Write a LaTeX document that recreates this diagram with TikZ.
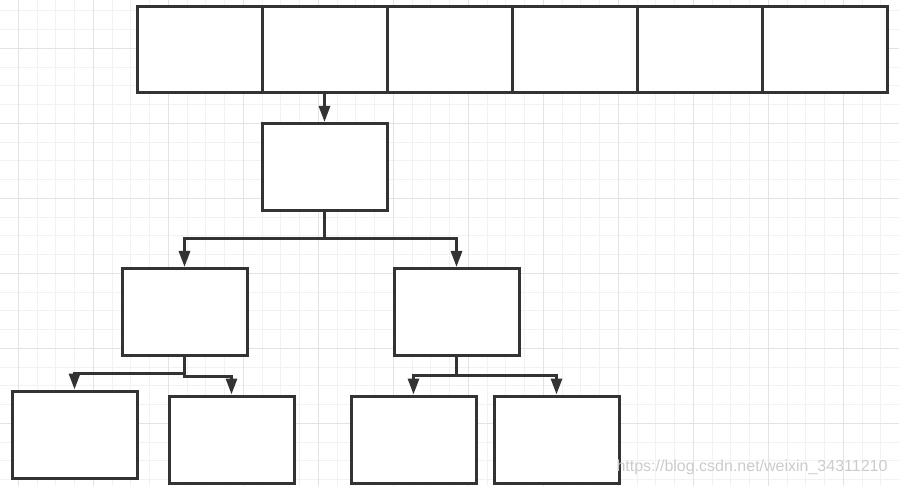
\documentclass[tikz,border=0pt]{standalone}
\usepackage{fontspec}
\newfontfamily\wmfont{Liberation Sans}
\usetikzlibrary{arrows.meta,positioning}
\definecolor{ink}{HTML}{333333}
\definecolor{minorgrid}{HTML}{F2F2F2}
\definecolor{majorgrid}{HTML}{E3E3E3}

\begin{document}
\begin{tikzpicture}[
        x=1pt, y=-1pt,
        >={Triangle[width=11pt,length=16pt]}, % filled arrow head
        line width=3pt]

        \tikzset{
            cell/.style={draw=ink, fill=white, rectangle,
                minimum width=125pt, minimum height=86pt,
                inner sep=0pt, outer sep=0pt},
            blk/.style={draw=ink, fill=white, rectangle,
                minimum width=125pt, minimum height=87pt, inner sep=0pt},
            conn/.style={->, draw=ink, line width=3pt},
            gridline/.style={line width=0.8pt}
        }

        \useasboundingbox (0,0) rectangle (899,486);
        \fill[white] (0,0) rectangle (899,486);
        % background grid
        \foreach \i in {0,...,48} {
            \draw[gridline, minorgrid] ({-0.5+18.75*\i},0) -- ++(0,486);
        }
        \foreach \i in {0,...,26} {
            \draw[gridline, minorgrid] (0,{-8+18.75*\i}) -- ++(899,0);
        }
        \foreach \i in {0,...,11} {
            \draw[gridline, majorgrid] ({18.25+75*\i},0) -- ++(0,486);
        }
        \foreach \i in {0,...,6} {
            \draw[gridline, majorgrid] (0,{-26.75+75*\i}) -- ++(899,0);
        }

        % top row
        \node[cell] (c1) at (199.5,50) {};
        \foreach \j [count=\k from 2] in {1,...,5} {
            \node[cell, right=0pt of c\j] (c\k) {};
        }

        % tree
        \node[blk] (root) at (324.5,167) {};
        \node[blk] (left) at (184.5,312) {};
        \node[blk] (right) at (456.5,312) {};
        \node[blk] (ll) at (74.5,434.5) {};
        \node[blk] (lr) at (231.5,439.5) {};
        \node[blk] (rl) at (413.5,439.5) {};
        \node[blk] (rr) at (556.5,439.5) {};

        \draw[conn] (c2.south) -- (root.north);
        \draw[conn] (root.south) -- ++(0,27) -| (left.north);
        \draw[conn] (root.south) -- ++(0,27) -| (right.north);
        \draw[conn] (left.south) -- ++(0,16) -| (ll.north);
        \draw[conn] (left.south) -- ++(0,19) -| (lr.north);
        \draw[conn] (right.south) -- ++(0,18) -| (rl.north);
        \draw[conn] (right.south) -- ++(0,18) -| (rr.north);

        \node[font=\wmfont\fontsize{16}{18}\selectfont, text=black!20,
            anchor=east, inner sep=0pt] (wm) at (889,467)
            {https://blog.csdn.net/weixin\_34311210};
    \end{tikzpicture}
\end{document}
